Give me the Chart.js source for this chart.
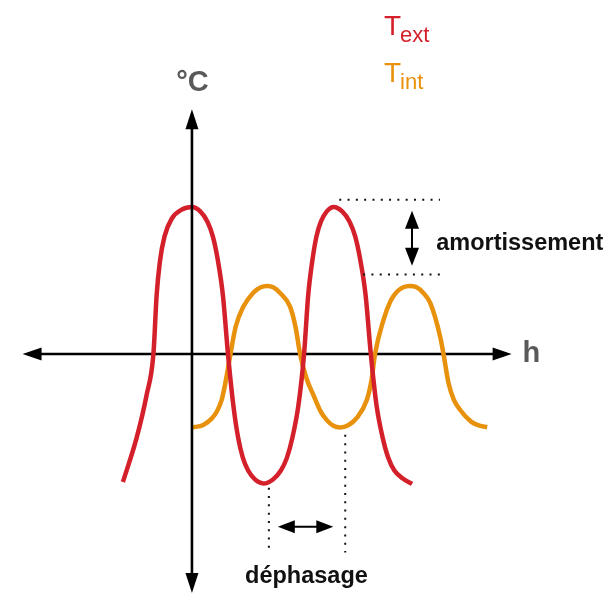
<!DOCTYPE html>
<html>
<head>
<meta charset="utf-8">
<script src="https://cdn.jsdelivr.net/npm/chart.js@4.4.1/dist/chart.umd.min.js"></script>
<style>
  html, body { margin: 0; padding: 0; background: #ffffff; }
  #wrap { width: 608px; height: 593px; position: relative; }
</style>
</head>
<body>
<div id="wrap"><canvas id="c"></canvas></div>
<script>
// Outdoor temperature (T ext) over time, in hours
const hoursText = [
  -11.58, -9.28, -7.6, -6.46,
  -5.92, -5.37, -4.6, -3.4, -1.8, 0,
  1.39, 2.6, 3.5, 4.29, 5.19, 6.04,
  6.95, 7.76, 8.53, 9.42, 10.61, 11.97,
  13.54, 14.91, 15.93, 16.82, 17.84, 18.8,
  19.49, 20.24, 20.88, 21.62, 22.61, 23.75,
  25.19, 26.43, 27.37, 28.18, 29.12, 29.99,
  30.96, 32.0, 32.9, 33.94, 35.3, 36.92
];
const tempText = [
  -8.71, -5.71, -2.79, 0,
  4.0, 6.3, 8.0, 9.2, 9.8, 10,
  9.7, 9.0, 8.0, 6.5, 4.0, 0,
  -3.52, -5.73, -7.05, -7.93, -8.55, -8.81,
  -8.55, -7.93, -7.05, -5.73, -3.52, 0,
  4.0, 6.5, 8.0, 9.0, 9.7, 10,
  9.7, 9.0, 8.0, 6.5, 4.0, 0,
  -3.52, -5.73, -7.05, -7.93, -8.45, -8.84
];

// Indoor temperature (T int) over time, in hours
const hoursInt = [
  0, 1.9, 3.3, 4.15, 5.0, 5.54, 6.46,
  7.33, 8.61, 10.29, 11.53, 12.64,
  13.63, 14.73, 16.45, 17.36, 18.13,
  19.2, 20.36, 21.5, 22.61, 23.7, 24.84,
  26.2, 27.64, 29.32, 30.1, 30.7,
  32.11, 33.3, 34.4, 35.43, 36.47,
  37.6, 38.8, 39.95, 41.62, 42.18,
  43.02, 43.9, 44.98, 46.8, 48.2, 49.51
];
const tempInt = [
  -5.0, -4.83, -4.4, -3.93, -3.1, -2.11, 0,
  1.85, 3.22, 4.17, 4.54, 4.63,
  4.54, 4.17, 3.22, 1.85, 0,
  -1.65, -2.79, -3.85, -4.5, -4.88, -5.0,
  -4.85, -4.35, -3.13, -1.8, 0,
  2.31, 3.6, 4.25, 4.54, 4.63,
  4.55, 4.15, 3.47, 1.18, 0,
  -1.97, -3.1, -3.81, -4.6, -4.88, -4.97
];

// Axis extents (hours, °C)
const xAxisRange = [-28.4, 53.6];
const yAxisRange = [-16.26, 16.65];

// Damping markers: levels of the two dotted guides and their spans
const amortLevels = [10.5, 5.4];
const amortSpans  = [[24.7, 41.6], [28.7, 41.6]];
const amortArrow  = { x: 36.9, from: 9.75, to: 6.0 };

// Phase-shift markers
const phaseLines = [[12.9, -9.1, -13.5], [25.7, -5.5, -13.5]];
const phaseArrow = { y: -11.75, from: 14.4, to: 23.7 };

const RED = '#d4202a';
const ORANGE = '#e8910c';
const GREY = '#595959';
const FONT = '"Liberation Sans", Arial, Helvetica, sans-serif';

const toPoints = (xs, ys) => xs.map((x, i) => ({ x, y: ys[i] }));

function arrowHead(ctx, tipX, tipY, dirX, dirY, len, half) {
  const bx = tipX - dirX * len, by = tipY - dirY * len;
  const px = -dirY, py = dirX;
  ctx.beginPath();
  ctx.moveTo(tipX, tipY);
  ctx.lineTo(bx + px * half, by + py * half);
  ctx.lineTo(bx - px * half, by - py * half);
  ctx.closePath();
  ctx.fill();
}

function dotted(ctx, x1, y1, x2, y2) {
  ctx.save();
  ctx.strokeStyle = '#111';
  ctx.lineWidth = 2;
  ctx.setLineDash([2, 6.3]);
  ctx.beginPath();
  ctx.moveTo(x1, y1);
  ctx.lineTo(x2, y2);
  ctx.stroke();
  ctx.restore();
}

const diagram = {
  id: 'diagram',
  beforeDatasetsDraw(chart) {
    const { ctx, scales: { x, y } } = chart;
    const y0 = y.getPixelForValue(0);
    const xl = x.getPixelForValue(xAxisRange[0]);
    const xr = x.getPixelForValue(xAxisRange[1]);
    ctx.save();
    ctx.strokeStyle = '#000';
    ctx.fillStyle = '#000';
    ctx.lineWidth = 2.6;
    ctx.beginPath();
    ctx.moveTo(xl + 10, y0);
    ctx.lineTo(xr - 10, y0);
    ctx.stroke();
    arrowHead(ctx, xr, y0, 1, 0, 19, 6.5);
    arrowHead(ctx, xl, y0, -1, 0, 19, 6.5);

    // axis names
    ctx.fillStyle = GREY;
    ctx.font = 'bold 29px ' + FONT;
    ctx.textBaseline = 'alphabetic';
    ctx.textAlign = 'left';
    ctx.fillText('h', xr + 11, y0 + 8);
    ctx.textAlign = 'center';
    ctx.fillText('°C', x.getPixelForValue(0) + 0.5, y.getPixelForValue(yAxisRange[1]) - 18);
    ctx.restore();
  },
  afterDatasetsDraw(chart) {
    const { ctx, scales: { x, y } } = chart;
    const x0 = x.getPixelForValue(0);
    const yt = y.getPixelForValue(yAxisRange[1]);
    const yb = y.getPixelForValue(yAxisRange[0]);
    ctx.save();
    ctx.strokeStyle = '#000';
    ctx.fillStyle = '#000';
    ctx.lineWidth = 2.6;
    ctx.beginPath();
    ctx.moveTo(x0, yt + 10);
    ctx.lineTo(x0, yb - 10);
    ctx.stroke();
    arrowHead(ctx, x0, yt, 0, -1, 20, 6.5);
    arrowHead(ctx, x0, yb, 0, 1, 20, 6.5);

    // damping guides
    amortLevels.forEach((lvl, i) => {
      const py = y.getPixelForValue(lvl);
      dotted(ctx, x.getPixelForValue(amortSpans[i][0]), py, x.getPixelForValue(amortSpans[i][1]), py);
    });
    const ax = x.getPixelForValue(amortArrow.x);
    const a1 = y.getPixelForValue(amortArrow.from);
    const a2 = y.getPixelForValue(amortArrow.to);
    ctx.lineWidth = 2;
    ctx.beginPath();
    ctx.moveTo(ax, a1 + 10);
    ctx.lineTo(ax, a2 - 10);
    ctx.stroke();
    arrowHead(ctx, ax, a1, 0, -1, 18, 7);
    arrowHead(ctx, ax, a2, 0, 1, 18, 7);

    // phase-shift guides
    phaseLines.forEach(([hx, top, bot]) => {
      const px = x.getPixelForValue(hx);
      dotted(ctx, px, y.getPixelForValue(top), px, y.getPixelForValue(bot));
    });
    const py = y.getPixelForValue(phaseArrow.y);
    const p1 = x.getPixelForValue(phaseArrow.from);
    const p2 = x.getPixelForValue(phaseArrow.to);
    ctx.beginPath();
    ctx.moveTo(p1 + 10, py);
    ctx.lineTo(p2 - 10, py);
    ctx.stroke();
    arrowHead(ctx, p1, py, -1, 0, 17, 6.5);
    arrowHead(ctx, p2, py, 1, 0, 17, 6.5);

    // annotations
    ctx.fillStyle = '#111';
    ctx.font = 'bold 23.5px ' + FONT;
    ctx.textBaseline = 'alphabetic';
    ctx.textAlign = 'left';
    ctx.fillText('amortissement', x.getPixelForValue(40.95), y.getPixelForValue(7.07));
    ctx.textAlign = 'center';
    ctx.fillText('déphasage', x.getPixelForValue(19.2), y.getPixelForValue(-15.6));

    // series names
    const lx = x.getPixelForValue(32.2);
    const drawName = (main, sub, color, base) => {
      ctx.fillStyle = color;
      ctx.textAlign = 'left';
      ctx.font = '28px ' + FONT;
      ctx.fillText(main, lx, base);
      const w = ctx.measureText(main).width;
      ctx.font = '22px ' + FONT;
      ctx.fillText(sub, lx + w - 1, base + 7);
    };
    drawName('T', 'ext', RED, 35);
    drawName('T', 'int', ORANGE, 82);
    ctx.restore();
  }
};

new Chart(document.getElementById('c'), {
  type: 'line',
  data: {
    datasets: [
      {
        label: 'T int',
        data: toPoints(hoursInt, tempInt),
        borderColor: ORANGE,
        borderWidth: 4.5,
        pointRadius: 0,
        cubicInterpolationMode: 'monotone',
        fill: false,
        order: 2
      },
      {
        label: 'T ext',
        data: toPoints(hoursText, tempText),
        borderColor: RED,
        borderWidth: 4.5,
        pointRadius: 0,
        cubicInterpolationMode: 'monotone',
        fill: false,
        order: 1
      }
    ]
  },
  options: {
    responsive: true,
    maintainAspectRatio: false,
    animation: false,
    events: [],
    layout: { padding: { left: 19, right: 94, top: 111, bottom: 0 } },
    scales: {
      x: { type: 'linear', display: false, min: -29, max: 54 },
      y: { type: 'linear', display: false, min: -16.26, max: 16.53 }
    },
    plugins: {
      legend: { display: false },
      tooltip: { enabled: false }
    },
    clip: false
  },
  plugins: [diagram]
});
</script>
</body>
</html>
